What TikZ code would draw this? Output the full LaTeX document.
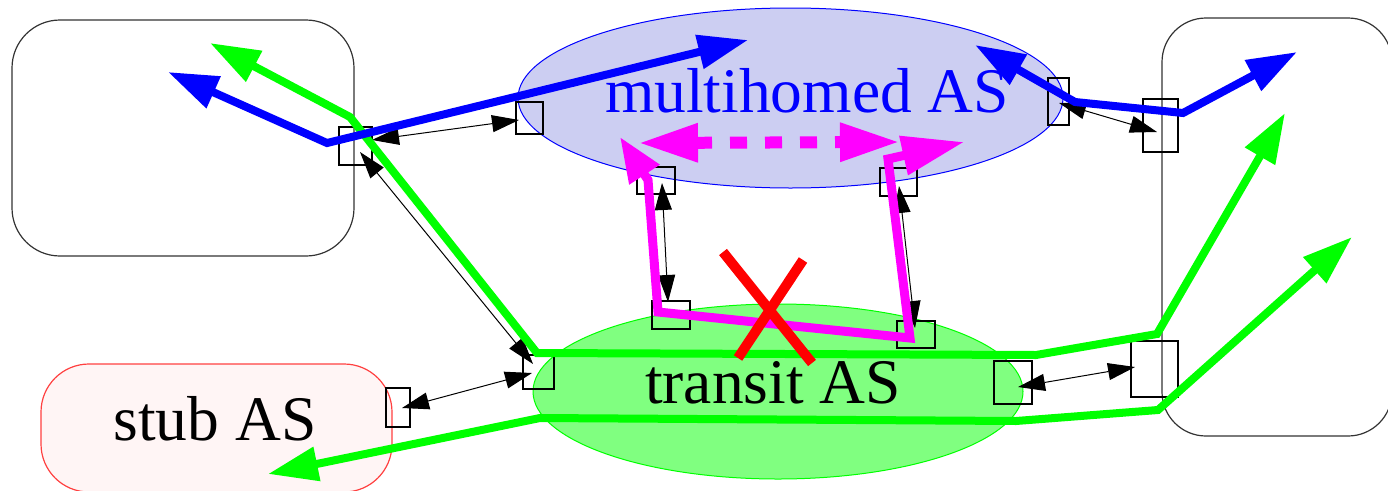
\documentclass[tikz,border=0pt]{standalone}
\usepackage{fontspec}
\setmainfont{Liberation Serif}
\usetikzlibrary{arrows.meta,shapes.geometric}
\definecolor{hatchblue}{RGB}{204,206,242}
\definecolor{stubfill}{RGB}{255,245,245}
\definecolor{stubred}{RGB}{255,64,64}
\definecolor{transfill}{RGB}{128,255,128}
\definecolor{pgreen}{RGB}{0,255,0}
\definecolor{pblue}{RGB}{0,0,255}
\definecolor{pmag}{RGB}{255,0,255}
\definecolor{pred}{RGB}{255,0,0}
\tikzset{
  asbox/.style={draw=black!80, line width=1.2pt, rounded corners=48pt, inner sep=0pt},
  port/.style={draw=black, line width=2pt, inner sep=0pt},
  peer/.style={draw=black, line width=1pt, {Triangle[length=27pt,width=17pt]}-{Triangle[length=27pt,width=17pt]}},
  route/.style={line width=8pt, {Triangle[length=50pt,width=33pt]}-{Triangle[length=50pt,width=33pt]}},
  bigtext/.style={font=\fontsize{63.5}{70}\selectfont, anchor=base, inner sep=0pt}
}
\begin{document}
\begin{tikzpicture}[x=1pt,y=-1pt]
\useasboundingbox (0,0) rectangle (1388,490);
% AS shapes
\node[asbox, minimum width=342pt, minimum height=236pt] (asleft) at (183,138) {};
\node[asbox, rounded corners=44pt, minimum width=230pt, minimum height=418pt] (asright) at (1277,227) {};
\node[asbox, draw=stubred, fill=stubfill, minimum width=351pt, minimum height=128pt] (stub) at (216.5,428) {};
\node[ellipse, draw=pblue, line width=1pt, fill=hatchblue, minimum width=545pt, minimum height=180pt, inner sep=0pt] (multi) at (790.5,98) {};
\node[ellipse, draw=pgreen, line width=1pt, fill=transfill, minimum width=490pt, minimum height=175pt, inner sep=0pt] (transit) at (778,391.5) {};
% labels
\node[bigtext, text=pblue] (multilabel) at (807,112) {multihomed AS};
\node[bigtext] (transitlabel) at (773,403) {transit AS};
\node[bigtext] (stublabel) at (215,440) {stub AS};
% ports
\node[port, minimum width=33pt, minimum height=38pt] (p1) at (355.5,146) {};
\node[port, minimum width=27pt, minimum height=32pt] (p2) at (529.5,118) {};
\node[port, minimum width=38pt, minimum height=27pt] (p3) at (656,180.5) {};
\node[port, minimum width=37pt, minimum height=28pt] (p4) at (898.5,182) {};
\node[port, minimum width=21pt, minimum height=47pt] (p5) at (1058.5,101.5) {};
\node[port, minimum width=35pt, minimum height=53pt] (p6) at (1160.5,125.5) {};
\node[port, minimum width=47pt, minimum height=56pt] (p7) at (1154.5,369) {};
\node[port, minimum width=38pt, minimum height=43pt] (p8) at (1013,382.5) {};
\node[port, minimum width=38pt, minimum height=27pt] (p9) at (916,334.5) {};
\node[port, minimum width=38pt, minimum height=28pt] (p10) at (671,315) {};
\node[port, minimum width=31pt, minimum height=34pt] (p11) at (538.5,372) {};
\node[port, minimum width=24pt, minimum height=39pt] (p12) at (398,407.5) {};
% peering session ends
\coordinate (s1a) at (372,140);  \coordinate (s1b) at (519,120);
\coordinate (s2a) at (360,152);  \coordinate (s2b) at (533,364);
\coordinate (s3a) at (402,408);  \coordinate (s3b) at (532,373);
\coordinate (s4a) at (662,183);  \coordinate (s4b) at (668,302);
\coordinate (s5a) at (899,186);  \coordinate (s5b) at (915,328);
\coordinate (s6a) at (1059,103); \coordinate (s6b) at (1157,132);
\coordinate (s7a) at (1018,387); \coordinate (s7b) at (1135,367);
\draw[peer] (s1a) -- (s1b);
\draw[peer] (s2a) -- (s2b);
\draw[peer] (s3a) -- (s3b);
\draw[peer] (s4a) -- (s4b);
\draw[peer] (s5a) -- (s5b);
\draw[peer] (s6a) -- (s6b);
\draw[peer] (s7a) -- (s7b);
% route coordinates
\coordinate (b1a) at (168,72); \coordinate (b1b) at (327,143); \coordinate (b1c) at (748,40);
\coordinate (g1a) at (210,43); \coordinate (g1b) at (350,117); \coordinate (g1c) at (537,353);
\coordinate (g1d) at (1036,355); \coordinate (g1e) at (1157,334); \coordinate (g1f) at (1285,113);
\coordinate (g2a) at (268,474); \coordinate (g2b) at (540,418); \coordinate (g2c) at (1016,421);
\coordinate (g2d) at (1158,410); \coordinate (g2e) at (1352,237);
\coordinate (b2a) at (975,45); \coordinate (b2b) at (1075,102); \coordinate (b2c) at (1183,113); \coordinate (b2d) at (1297,52);
\coordinate (m1) at (620,137); \coordinate (m2) at (648,180); \coordinate (m3) at (658,312);
\coordinate (m4) at (910,338); \coordinate (m5) at (888,159); \coordinate (m6) at (964,142);
\coordinate (d1) at (638,143); \coordinate (d2) at (900,142);
\coordinate (x1) at (723,252); \coordinate (x2) at (812,363);
\coordinate (x3) at (803,260); \coordinate (x4) at (738,358);
% routes
\draw[route, pgreen] (g1a) -- (g1b) -- (g1c) -- (g1d) -- (g1e) -- (g1f);
\draw[route, pgreen] (g2a) -- (g2b) -- (g2c) -- (g2d) -- (g2e);
\draw[route, pblue] (b1a) -- (b1b) -- (b1c);
\draw[route, pblue] (b2a) -- (b2b) -- (b2c) -- (b2d);
\draw[line width=12pt, pmag, dash pattern=on 17pt off 18pt, {Triangle[length=60pt,width=36pt]}-{Triangle[length=60pt,width=36pt]}] (d1) -- (d2);
\draw[route, line width=9pt, pmag, {Triangle[length=45pt,width=34pt]}-{Triangle[length=62pt,width=38pt]}] (m1) -- (m2) -- (m3) -- (m4) -- (m5) -- (m6);
% failed link
\draw[pred, line width=10pt] (x1) -- (x2);
\draw[pred, line width=10pt] (x3) -- (x4);
\end{tikzpicture}
\end{document}
